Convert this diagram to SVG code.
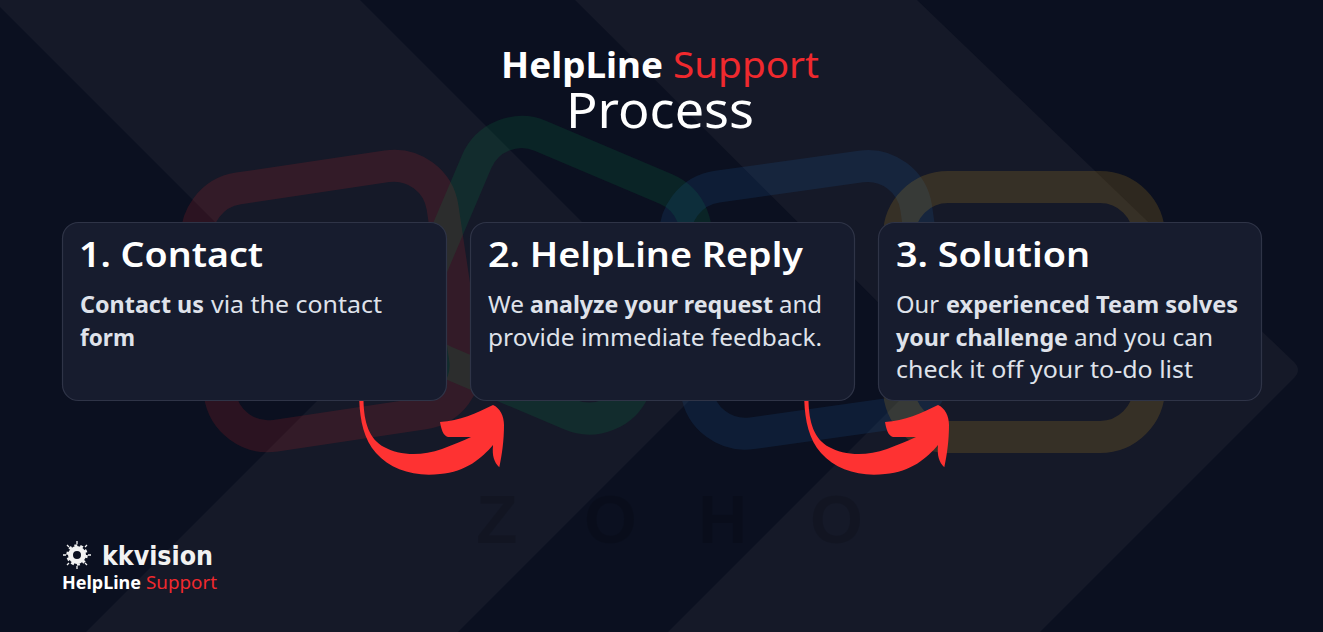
<svg xmlns="http://www.w3.org/2000/svg" xmlns:xlink="http://www.w3.org/1999/xlink" width="1323" height="632" viewBox="0 0 1323 632">
<style>
text{font-family:"Noto Sans","Open Sans","Liberation Sans",sans-serif}
.h{font-size:34px;font-weight:600;fill:#fff}
.b{font-size:23px;fill:#dfe2ea}
.s{font-weight:700}
.card{fill:#171c2e;stroke:#2f3447;stroke-width:1.2}
.ring{fill:none;stroke-width:32;stroke-opacity:.15}
.red{fill:#f0292e}
.z{font-family:"Liberation Sans",sans-serif;font-size:68px;font-weight:700;fill:#000;fill-opacity:.13}
</style>
<defs>
<path id="swoosh" fill="#fe3232" d="M359.3 401 L363.5 401 C364 422 369 439 384 447 C398 455 420 457 442 449 C452 445 463 441 471 437 L448 437 C443 436 441 428 440 422 C460 421 476 413 493 405 C500 408 504 416 504 425 C504 440 502 455 499.3 467.3 C494 462 492 456 493 445 C482 458 466 472 440 474 C415 477 391 470 376 453 C364 440 360 420 359.3 401 Z"/>
</defs>
<g id="background">
<rect width="1323" height="632" fill="#0b1020"/>
<path fill="#151928" d="M0 0 H360 L725 365 L458 632 H86 L355.5 362.5 L0 7 Z"/>
<path fill="#151928" d="M575 0 H917 L1294 362 Q1302 370 1294 378 L1040 632 H668 L938 362 Z"/>
<rect class="ring" x="207" y="176" width="248" height="250" rx="49" stroke="#e42527" transform="rotate(-8.5 331 300)"/>
<rect class="ring" x="437" y="159" width="234" height="245" rx="49" stroke="#089949" transform="rotate(23 570 282)"/>
<rect class="ring" x="685" y="175" width="243" height="249" rx="49" stroke="#226db4" transform="rotate(-8 809 300)"/>
<rect class="ring" x="899" y="187" width="250" height="250" rx="49" stroke="#f9b21d"/>
<text class="z" x="476" y="543">Z</text>
<text class="z" x="584" y="543">O</text>
<text class="z" x="698" y="543">H</text>
<text class="z" x="810" y="543">O</text>
</g>
<g id="title">
<text x="501" y="78" font-size="36" font-weight="700" fill="#fff" textLength="162" lengthAdjust="spacingAndGlyphs">HelpLine</text>
<text x="673" y="78" font-size="36" fill="#f0292e" textLength="146" lengthAdjust="spacingAndGlyphs">Support</text>
<text x="566" y="128" font-size="50" fill="#fff" textLength="188" lengthAdjust="spacingAndGlyphs">Process</text>
</g>
<g id="card-1">
<rect class="card" x="62.5" y="222.5" width="384" height="178" rx="16"/>
<text class="h" x="79" y="267" textLength="184" lengthAdjust="spacingAndGlyphs">1. Contact</text>
<text class="b s" x="80" y="313" textLength="124" lengthAdjust="spacingAndGlyphs">Contact us</text>
<text class="b" x="211" y="313" textLength="171" lengthAdjust="spacingAndGlyphs">via the contact</text>
<text class="b s" x="80" y="346" textLength="55" lengthAdjust="spacingAndGlyphs">form</text>
</g>
<g id="card-2">
<rect class="card" x="470.5" y="222.5" width="384" height="178" rx="16"/>
<text class="h" x="488" y="267" textLength="315" lengthAdjust="spacingAndGlyphs">2. HelpLine Reply</text>
<text class="b" x="488" y="313" textLength="36" lengthAdjust="spacingAndGlyphs">We</text>
<text class="b s" x="530" y="313" textLength="243" lengthAdjust="spacingAndGlyphs">analyze your request</text>
<text class="b" x="779" y="313" textLength="43" lengthAdjust="spacingAndGlyphs">and</text>
<text class="b" x="488" y="346" textLength="334" lengthAdjust="spacingAndGlyphs">provide immediate feedback.</text>
</g>
<g id="card-3">
<rect class="card" x="878.5" y="222.5" width="383" height="178" rx="16"/>
<text class="h" x="896" y="267" textLength="194" lengthAdjust="spacingAndGlyphs">3. Solution</text>
<text class="b" x="896" y="313" textLength="43" lengthAdjust="spacingAndGlyphs">Our</text>
<text class="b s" x="946" y="313" textLength="292" lengthAdjust="spacingAndGlyphs">experienced Team solves</text>
<text class="b s" x="896" y="346" textLength="172" lengthAdjust="spacingAndGlyphs">your challenge</text>
<text class="b" x="1074" y="346" textLength="139" lengthAdjust="spacingAndGlyphs">and you can</text>
<text class="b" x="896" y="378" textLength="297" lengthAdjust="spacingAndGlyphs">check it off your to-do list</text>
</g>
<g id="connectors">
<use href="#swoosh"/>
<use href="#swoosh" x="445"/>
</g>
<g id="logo">
<circle cx="77" cy="555" r="6.5" fill="none" stroke="#f2f2f2" stroke-width="5"/>
<circle cx="77" cy="555" r="9.5" fill="none" stroke="#f2f2f2" stroke-width="2.5" stroke-dasharray="3 2.97"/>
<g stroke="#f2f2f2" stroke-width="1.3">
<path d="M77 541V544M77 566V569M63 555H66M88 555H91M67 545L69 547M85 563L87 565M87 545L85 547M69 563L67 565"/>
</g>
<text x="102" y="565" font-size="26" font-weight="700" fill="#f2f2f2" style="font-family:'DejaVu Sans',sans-serif" textLength="111" lengthAdjust="spacingAndGlyphs">kkvision</text>
<text x="62" y="589" font-size="18" font-weight="700" fill="#fff" textLength="79" lengthAdjust="spacingAndGlyphs">HelpLine</text>
<text x="146" y="589" font-size="18" fill="#f0292e" textLength="71" lengthAdjust="spacingAndGlyphs">Support</text>
</g>
</svg>
